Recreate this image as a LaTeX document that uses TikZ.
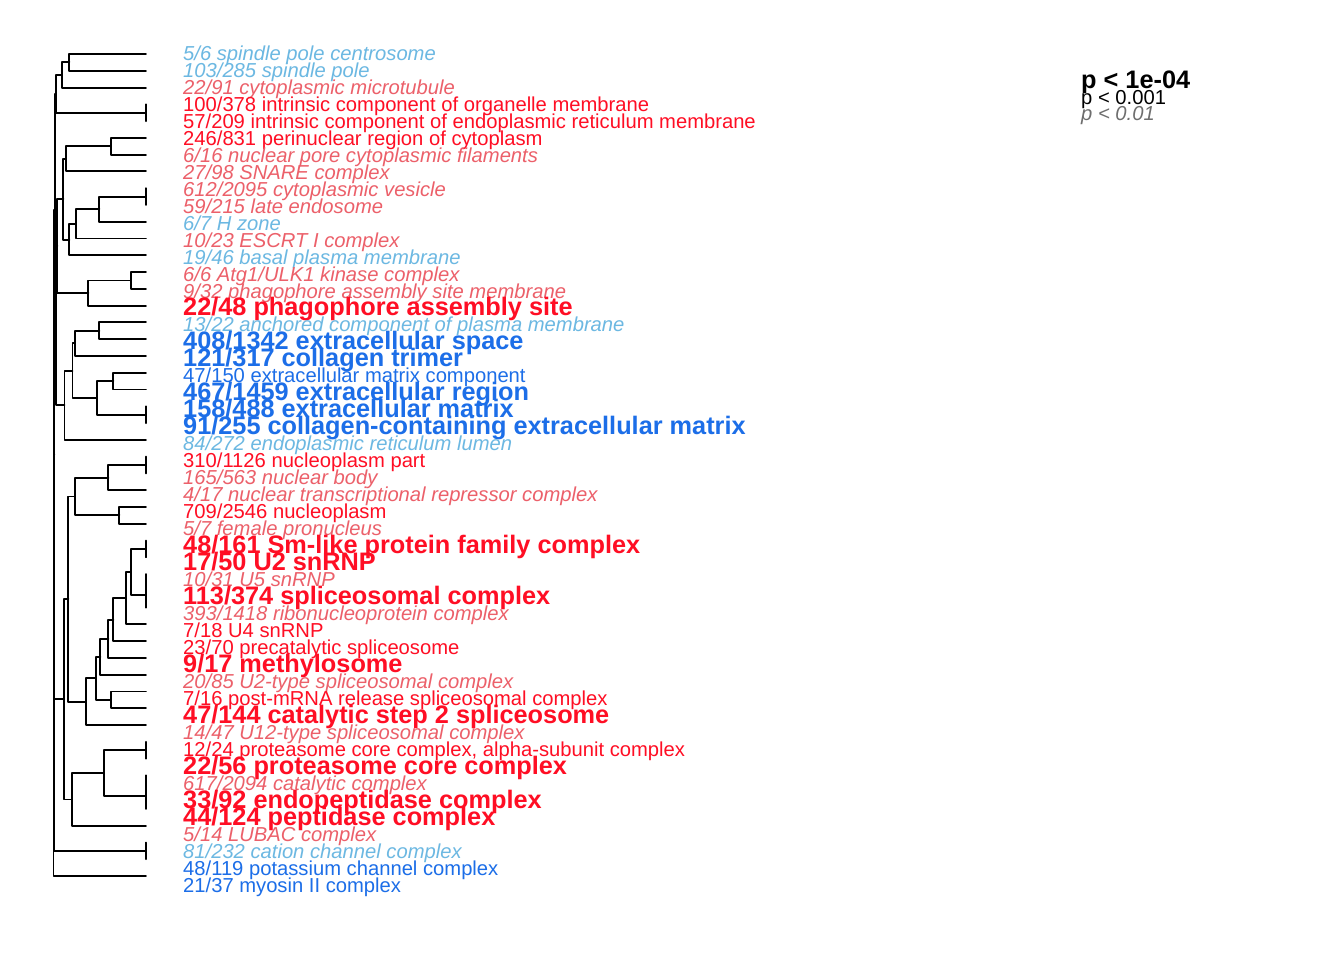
\documentclass[tikz,border=0pt]{standalone}
\usepackage{fontspec}
\setmainfont{Liberation Sans}
\definecolor{clb}{RGB}{108,184,226}
\definecolor{cbl}{RGB}{28,110,232}
\definecolor{crd}{RGB}{255,14,36}
\definecolor{cpk}{RGB}{236,96,106}
\definecolor{cgr}{RGB}{110,110,110}
\newcommand\lab[3]{\node[#2] (t#1) at (183,{53+(#1-1)*16.98}) {#3};}
\tikzset{
  tree/.style={line width=1.9pt, line cap=round, line join=round, black},
  base/.style={anchor=base west, inner sep=0pt, yshift=-7.3pt, font=\fontsize{20.2}{22}\selectfont},
  big/.style={anchor=base west, inner sep=0pt, yshift=-8.2pt, font=\fontsize{25.3}{27}\selectfont\bfseries},
  lbi/.style={base, text=clb, font=\fontsize{20.2}{22}\selectfont\itshape},
  pki/.style={base, text=cpk, font=\fontsize{20.2}{22}\selectfont\itshape},
  rdn/.style={base, text=crd},
  bln/.style={base, text=cbl},
  rdb/.style={big, text=crd},
  blb/.style={big, text=cbl},
}
\begin{document}
\begin{tikzpicture}[x=1pt,y=-1pt]
\useasboundingbox (0,0) rectangle (1344,960);
\fill[white] (0,0) rectangle (1344,960);
% leaf tips
\foreach \i in {1,...,50} {\coordinate (L\i) at (146,{54+(\i-1)*16.776});}
% internal nodes
\coordinate (A) at (69.3,62.39);
\coordinate (B) at (61.7,74.97);
\coordinate (N45) at (146,112.72);
\coordinate (C) at (55.7,93.84);
\coordinate (D) at (111,146.27);
\coordinate (E) at (65.7,158.85);
\coordinate (N910) at (146,196.60);
\coordinate (F) at (99.3,209.18);
\coordinate (G) at (76,223.86);
\coordinate (H) at (69.3,239.59);
\coordinate (I) at (63.3,199.22);
\coordinate (J) at (130.7,280.48);
\coordinate (K) at (88.3,293.06);
\coordinate (Y1) at (57.3,246.14);
\coordinate (Lq) at (99.3,330.81);
\coordinate (M) at (75,343.39);
\coordinate (Nn) at (113.3,381.13);
\coordinate (N2223) at (146,414.69);
\coordinate (O) at (96.7,397.91);
\coordinate (P) at (72.5,370.65);
\coordinate (Q) at (64.5,405.25);
\coordinate (Y2) at (55.7,325.70);
\coordinate (Z) at (54.7,209.77);
\coordinate (R25) at (146,465.01);
\coordinate (R) at (108.3,477.60);
\coordinate (S) at (119.3,515.34);
\coordinate (T) at (75,496.47);
\coordinate (AA) at (146,548.89);
\coordinate (N3233) at (146,582.45);
\coordinate (BB) at (146,595.03);
\coordinate (CC) at (130.7,571.96);
\coordinate (DD) at (126,598.17);
\coordinate (EE) at (113.3,619.67);
\coordinate (FF) at (108.3,638.81);
\coordinate (GG) at (100.3,656.76);
\coordinate (HH) at (111,699.88);
\coordinate (II) at (96,678.32);
\coordinate (JJ) at (85.7,701.68);
\coordinate (U) at (68.3,599.08);
\coordinate (KK) at (146,750.21);
\coordinate (N4445) at (146,783.76);
\coordinate (LL) at (146,796.34);
\coordinate (MM) at (104,773.28);
\coordinate (NN) at (71.7,799.49);
\coordinate (W) at (64,699.29);
\coordinate (R2) at (54.3,454.53);
\coordinate (N4849) at (146,850.86);
\coordinate (R1) at (54,652.70);
\coordinate (R0) at (53.5,764.36);
% brackets
\foreach \a/\n/\b in {L1/A/L2, A/B/L3, L4/N45/L5, B/C/N45, L6/D/L7, D/E/L8,
  L9/N910/L10, N910/F/L11, F/G/L12, G/H/L13, E/I/H, L14/J/L15, J/K/L16, I/Y1/K,
  L17/Lq/L18, Lq/M/L19, L20/Nn/L21, L22/N2223/L23, Nn/O/N2223, M/P/O, P/Q/L24,
  Y1/Y2/Q, C/Z/Y2, L25/R25/L26, R25/R/L27, L28/S/L29, R/T/S,
  L30/AA/L31, L32/N3233/L33, N3233/BB/L34, AA/CC/BB, CC/DD/L35, DD/EE/L36,
  EE/FF/L37, FF/GG/L38, L39/HH/L40, GG/II/HH, II/JJ/L41, T/U/JJ,
  L42/KK/L43, L44/N4445/L45, N4445/LL/L46, KK/MM/LL, MM/NN/L47, U/W/NN,
  Z/R2/W, L48/N4849/L49, R2/R1/N4849, R1/R0/L50}
  {\draw[tree] (\a) -| (\n) |- (\b);}
% labels
\lab{1}{lbi}{5/6 spindle pole centrosome}
\lab{2}{lbi}{103/285 spindle pole}
\lab{3}{pki}{22/91 cytoplasmic microtubule}
\lab{4}{rdn}{100/378 intrinsic component of organelle membrane}
\lab{5}{rdn}{57/209 intrinsic component of endoplasmic reticulum membrane}
\lab{6}{rdn}{246/831 perinuclear region of cytoplasm}
\lab{7}{pki}{6/16 nuclear pore cytoplasmic filaments}
\lab{8}{pki}{27/98 SNARE complex}
\lab{9}{pki}{612/2095 cytoplasmic vesicle}
\lab{10}{pki}{59/215 late endosome}
\lab{11}{lbi}{6/7 H zone}
\lab{12}{pki}{10/23 ESCRT I complex}
\lab{13}{lbi}{19/46 basal plasma membrane}
\lab{14}{pki}{6/6 Atg1/ULK1 kinase complex}
\lab{15}{pki}{9/32 phagophore assembly site membrane}
\lab{16}{rdb}{22/48 phagophore assembly site}
\lab{17}{lbi}{13/22 anchored component of plasma membrane}
\lab{18}{blb}{408/1342 extracellular space}
\lab{19}{blb}{121/317 collagen trimer}
\lab{20}{bln}{47/150 extracellular matrix component}
\lab{21}{blb}{467/1459 extracellular region}
\lab{22}{blb}{158/488 extracellular matrix}
\lab{23}{blb}{91/255 collagen-containing extracellular matrix}
\lab{24}{lbi}{84/272 endoplasmic reticulum lumen}
\lab{25}{rdn}{310/1126 nucleoplasm part}
\lab{26}{pki}{165/563 nuclear body}
\lab{27}{pki}{4/17 nuclear transcriptional repressor complex}
\lab{28}{rdn}{709/2546 nucleoplasm}
\lab{29}{pki}{5/7 female pronucleus}
\lab{30}{rdb}{48/161 Sm-like protein family complex}
\lab{31}{rdb}{17/50 U2 snRNP}
\lab{32}{pki}{10/31 U5 snRNP}
\lab{33}{rdb}{113/374 spliceosomal complex}
\lab{34}{pki}{393/1418 ribonucleoprotein complex}
\lab{35}{rdn}{7/18 U4 snRNP}
\lab{36}{rdn}{23/70 precatalytic spliceosome}
\lab{37}{rdb}{9/17 methylosome}
\lab{38}{pki}{20/85 U2-type spliceosomal complex}
\lab{39}{rdn}{7/16 post-mRNA release spliceosomal complex}
\lab{40}{rdb}{47/144 catalytic step 2 spliceosome}
\lab{41}{pki}{14/47 U12-type spliceosomal complex}
\lab{42}{rdn}{12/24 proteasome core complex, alpha-subunit complex}
\lab{43}{rdb}{22/56 proteasome core complex}
\lab{44}{pki}{617/2094 catalytic complex}
\lab{45}{rdb}{33/92 endopeptidase complex}
\lab{46}{rdb}{44/124 peptidase complex}
\lab{47}{pki}{5/14 LUBAC complex}
\lab{48}{lbi}{81/232 cation channel complex}
\lab{49}{bln}{48/119 potassium channel complex}
\lab{50}{bln}{21/37 myosin II complex}
% legend
\node[big, text=black] (lg1) at (1081,80) {p < 1e-04};
\node[base, text=black] (lg2) at (1081,97) {p < 0.001};
\node[base, text=cgr, font=\fontsize{20.2}{22}\selectfont\itshape] (lg3) at (1081,113) {p < 0.01};
\end{tikzpicture}
\end{document}
